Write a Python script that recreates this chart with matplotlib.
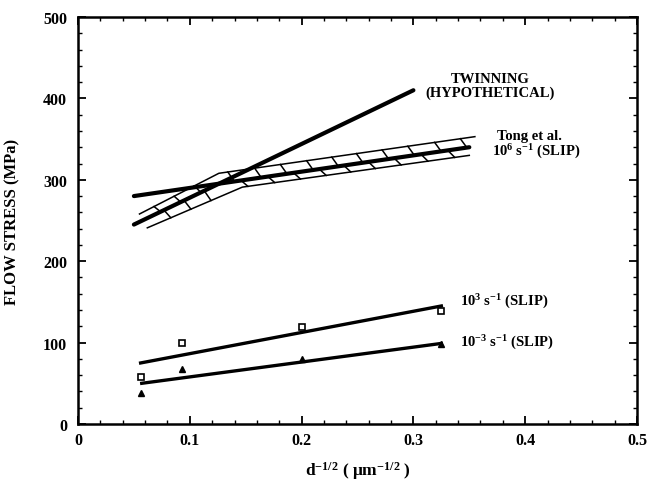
import matplotlib
matplotlib.use('Agg')
import matplotlib.pyplot as plt
import numpy as np

plt.rcParams['font.family'] = ['Liberation Serif', 'DejaVu Serif']
plt.rcParams['font.weight'] = 'bold'
plt.rcParams['mathtext.fontset'] = 'custom'
plt.rcParams['mathtext.rm'] = 'Liberation Serif:bold'
plt.rcParams['mathtext.it'] = 'Liberation Serif:bold'
plt.rcParams['mathtext.bf'] = 'Liberation Serif:bold'

# grain size term d^-1/2 for the measured points
d_pts = [0.056, 0.093, 0.200, 0.325]
slip_1e3 = [58, 99, 119, 139]      # squares, 10^3 s^-1
slip_1em3 = [38, 68, 80, 98]       # triangles, 10^-3 s^-1

# fitted lines
fit_1e3_x = [0.056, 0.325]
fit_1e3_y = [75, 145]
fit_1em3_x = [0.057, 0.325]
fit_1em3_y = [50, 99]

# twinning (hypothetical)
twin_x = [0.05, 0.30]
twin_y = [245, 410]

# Tong et al. 10^6 s^-1 slip
tong_x = [0.05, 0.35]
tong_y = [280, 340]

# hatched band around the Tong et al. prediction
band_up_x = [0.055, 0.126, 0.355]
band_up_y = [258, 308, 353]
band_lo_x = [0.062, 0.147, 0.350]
band_lo_y = [241, 291, 330]
band_mid_x = [0.058, 0.126, 0.352]
band_mid_y = [250, 295, 340]
hatch_up = [0.068, 0.086, 0.104, 0.134, 0.158, 0.181, 0.2045, 0.227, 0.249, 0.272, 0.295, 0.319, 0.342]
hatch_lo = [0.077, 0.095, 0.113, 0.146, 0.170, 0.193, 0.216, 0.238, 0.260, 0.283, 0.307, 0.331]

fig = plt.figure(figsize=(6.49, 4.81), dpi=100)
ax = fig.add_axes([0.1202, 0.1164, 0.8613, 0.8462])

# band outline
ax.plot(band_up_x, band_up_y, color='k', lw=1.1)
ax.plot(band_lo_x, band_lo_y, color='k', lw=1.1)
dx = 0.006
for x in hatch_up:
    ax.plot([x, x + dx], [np.interp(x, band_up_x, band_up_y), np.interp(x + dx, band_mid_x, band_mid_y)],
            color='k', lw=1.1)
for x in hatch_lo:
    ax.plot([x, x + dx], [np.interp(x, band_mid_x, band_mid_y), np.interp(x + dx, band_lo_x, band_lo_y)],
            color='k', lw=1.1)

ax.plot(tong_x, tong_y, color='k', lw=3.0, solid_capstyle='round')
ax.plot(twin_x, twin_y, color='k', lw=3.0, solid_capstyle='round')

ax.plot(fit_1e3_x, fit_1e3_y, color='k', lw=2.4)
ax.plot(fit_1em3_x, fit_1em3_y, color='k', lw=2.4)
ax.plot(d_pts, slip_1e3, ls='none', marker='s', ms=4.5, mfc='white', mec='k', mew=1.2)
ax.plot(d_pts, slip_1em3, ls='none', marker='^', ms=5, mfc='k', mec='k')

# annotations
ax.text(0.3685, 416, 'TWINNING\n(HYPOTHETICAL)', ha='center', va='center', fontsize=10.5,
        fontweight='bold', linespacing=1.1)
ax.text(0.375, 354, 'Tong et al.', ha='left', va='center', fontsize=10.5)
ax.text(0.370, 335, '10$^{6}$ s$^{-1}$ (SLIP)', ha='left', va='center', fontsize=10.5)
ax.text(0.342, 151, '10$^{3}$ s$^{-1}$ (SLIP)', ha='left', va='center', fontsize=10.5)
ax.text(0.342, 101, '10$^{-3}$ s$^{-1}$ (SLIP)', ha='left', va='center', fontsize=10.5)

ax.set_xlim(0, 0.5)
ax.set_ylim(0, 500)
ax.set_xticks([0, 0.1, 0.2, 0.3, 0.4, 0.5])
ax.set_xticklabels(['0', '0.1', '0.2', '0.3', '0.4', '0.5'])
ax.set_yticks([0, 100, 200, 300, 400, 500])
ax.set_xticks(np.arange(0, 0.501, 0.02), minor=True)
ax.set_yticks(np.arange(0, 501, 20), minor=True)
ax.tick_params(which='both', direction='in', top=True, right=True, labelsize=11.5)
ax.tick_params(which='major', length=6, width=1.3)
ax.tick_params(which='minor', length=3, width=1.0)
ax.tick_params(axis='y', pad=8)
ax.tick_params(axis='x', pad=6)
for s in ax.spines.values():
    s.set_linewidth(1.8)

ax.set_ylabel('FLOW STRESS (MPa)', fontsize=12, fontweight='bold', labelpad=16)
ax.set_xlabel('d$^{-1/2}$ ( μm$^{-1/2}$ )', fontsize=12.5, fontweight='bold', labelpad=8)

fig.savefig('out.png', dpi=100)
